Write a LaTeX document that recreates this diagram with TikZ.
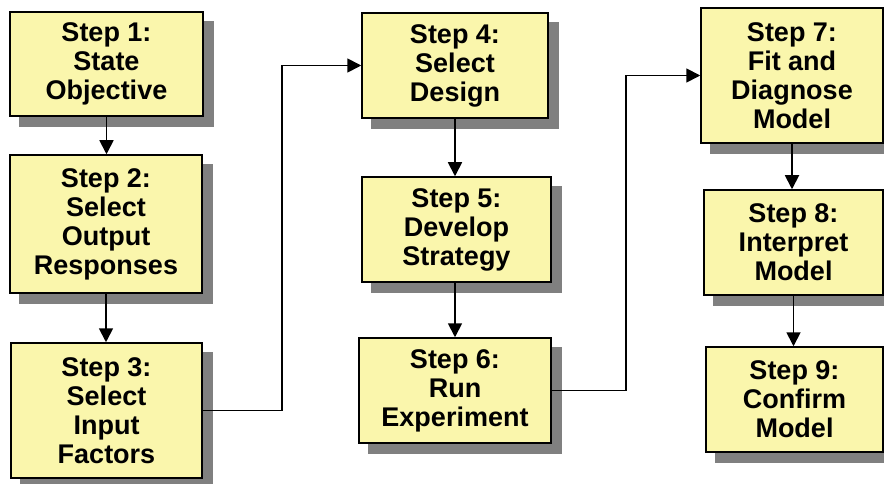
\documentclass[tikz,border=0pt]{standalone}
\usepackage{fontspec}
\setmainfont{Liberation Sans}
\usepackage{xcolor}
\usepackage{tikz}
\usetikzlibrary{arrows.meta,backgrounds}
\usetikzlibrary{positioning,calc}
\definecolor{stepfill}{RGB}{250,246,172}
\definecolor{stepshadow}{RGB}{128,128,128}
\newcommand{\stepfont}[0]{\fontsize{27}{29}\selectfont\bfseries}

\tikzset{
  stepbox/.style={draw=black, line width=1.5pt, fill=stepfill, align=center,
    inner sep=0pt, font=\stepfont},
  flow/.style={draw=black, line width=1.8pt, -{Triangle[length=14pt,width=14pt]}}
}

\begin{document}
\begin{tikzpicture}[x=1pt, y=-1pt]
  \useasboundingbox (0,0) rectangle (884,484);

  % first column
  \node[stepbox, minimum width=193pt, minimum height=104pt] (s1) at (106.5,64) {Step 1:\\State\\Objective};
  \node[stepbox, minimum width=192pt, minimum height=138pt] (s2) at (106,224) {Step 2:\\Select\\Output\\Responses};
  \node[stepbox, minimum width=191pt, minimum height=135pt] (s3) at (106.5,410.5) {Step 3:\\Select\\ Input\\Factors};

  % second column
  \node[stepbox, minimum width=186pt, minimum height=105pt] (s4) at (455,65.5) {Step 4:\\Select\\Design};
  \node[stepbox, minimum width=189pt, minimum height=105pt] (s5) at (456.5,229.5) {Step 5:\\Develop\\Strategy};
  \node[stepbox, minimum width=192pt, minimum height=105pt] (s6) at (455,390.5) {Step 6:\\Run\\Experiment};

  % third column
  \node[stepbox, minimum width=182pt, minimum height=135pt] (s7) at (792,75.5) {Step 7:\\Fit and\\Diagnose\\Model};
  \node[stepbox, minimum width=179pt, minimum height=105pt] (s8) at (793.5,242.5) {Step 8:\\Interpret\\Model};
  \node[stepbox, minimum width=177pt, minimum height=105pt] (s9) at (794.5,399.5) {Step 9:\\Confirm\\Model};

  % grey shadows behind the boxes
  \begin{scope}[on background layer]
    \foreach \s in {s1,s2,s3,s4,s5,s6,s7,s8,s9}
      \fill[stepshadow] ($(\s.north west)+(10,10)$) rectangle ($(\s.south east)+(10,10)$);
  \end{scope}

  \coordinate (m1) at ($(s3.east)!.5!(s4.west)$);
  \coordinate (m2) at ($(s6.east)!.5!(s7.west)$);

  \draw[flow] (s1.south) -- (s1.south |- s2.north);
  \draw[flow] (s2.south) -- (s2.south |- s3.north);
  \draw[flow] (s3.east) -| (m1) |- (s4.west);
  \draw[flow] (s4.south) -- (s4.south |- s5.north);
  \draw[flow] (s4.south |- s5.south) -- (s4.south |- s6.north);
  \draw[flow] (s6.east) -| (m2) |- (s7.west);
  \draw[flow] (s7.south) -- (s7.south |- s8.north);
  \draw[flow] (s8.south) -- (s8.south |- s9.north);
\end{tikzpicture}
\end{document}
